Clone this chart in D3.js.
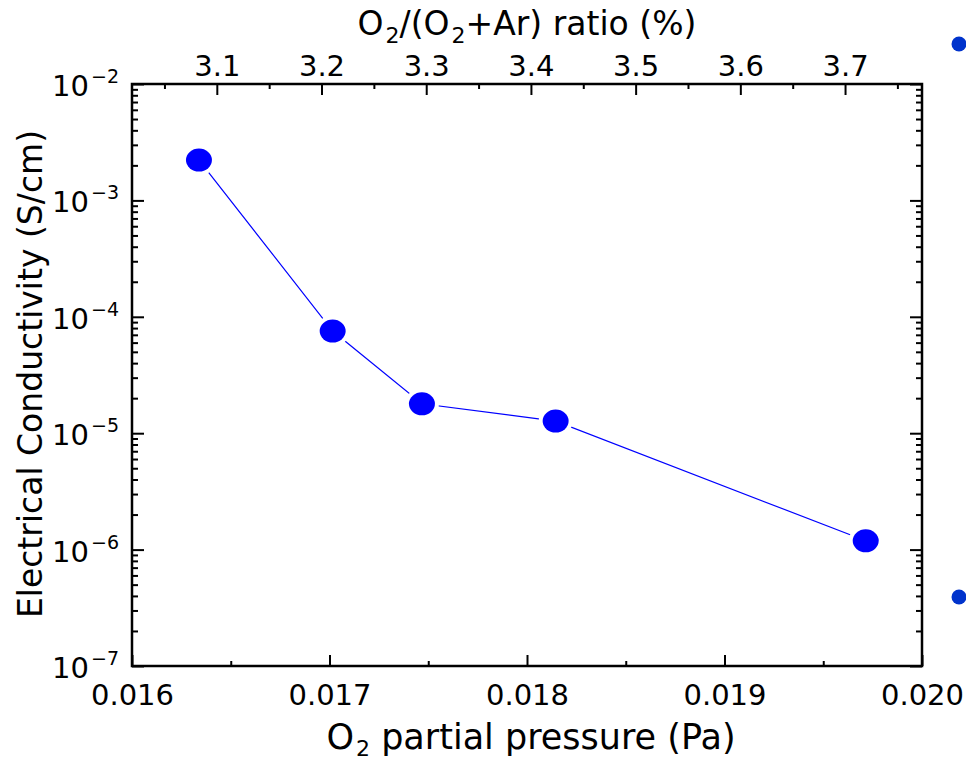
<!DOCTYPE html>
<html>
<head>
<meta charset="utf-8">
<script src="https://cdn.jsdelivr.net/npm/d3@7/dist/d3.min.js"></script>
<style>
  html, body { margin: 0; padding: 0; background: #fff; }
  svg { display: block; }
  text { font-family: "DejaVu Sans", sans-serif; fill: #000; }
</style>
</head>
<body>
<svg id="chart" width="966" height="762"></svg>
<script>
// ---- data ----
const pressure = [0.016339, 0.017016, 0.017468, 0.018145, 0.019715];      // O2 partial pressure (Pa)
const conductivity = [2.22e-3, 7.55e-5, 1.79e-5, 1.27e-5, 1.19e-6];        // S/cm
const xTicks = [0.016, 0.017, 0.018, 0.019, 0.020];
const xMinorTicks = [0.0165, 0.0175, 0.0185, 0.0195];
const topTicks = [3.1, 3.2, 3.3, 3.4, 3.5, 3.6, 3.7];
const topMinorTicks = [3.05, 3.15, 3.25, 3.35, 3.45, 3.55, 3.65, 3.75];
const yExponents = [-2, -3, -4, -5, -6, -7];

const W = 966, H = 762;
const margin = { left: 132, right: 44, top: 84, bottom: 96 };
const svg = d3.select("#chart");

const x = d3.scaleLinear().domain([0.016, 0.020]).range([margin.left, W - margin.right]);
const xTop = d3.scaleLinear().domain([3.019, 3.7735]).range([margin.left, W - margin.right]);
const y = d3.scaleLog().domain([1e-7, 1e-2]).range([H - margin.bottom, margin.top]);

const x0 = margin.left, x1 = W - margin.right, y0 = H - margin.bottom, y1 = margin.top;

function styleAxis(g) {
  g.select(".domain").remove();
  g.selectAll(".tick line").attr("stroke", "#000").attr("stroke-width", 2);
  g.selectAll(".tick text").style("font-size", "29px").attr("fill", "#000");
}

// bottom axis (ticks inward)
svg.append("g").attr("transform", `translate(0,${y0})`)
  .call(d3.axisBottom(x).tickValues(xTicks).tickSize(-11).tickPadding(18).tickFormat(d3.format(".3f")))
  .call(styleAxis);
svg.append("g").attr("transform", `translate(0,${y0})`)
  .call(d3.axisBottom(x).tickValues(xMinorTicks).tickSize(-5).tickFormat(""))
  .call(styleAxis);

// top axis
svg.append("g").attr("transform", `translate(0,${y1})`)
  .call(d3.axisTop(xTop).tickValues(topTicks).tickSize(-11).tickPadding(8).tickFormat(d3.format(".1f")))
  .call(styleAxis);
svg.append("g").attr("transform", `translate(0,${y1})`)
  .call(d3.axisTop(xTop).tickValues(topMinorTicks).tickSize(-5).tickFormat(""))
  .call(styleAxis);

// y axes (left and right), log ticks
const allY = y.ticks();
const majorY = allY.filter(d => Math.abs(Math.log10(d) - Math.round(Math.log10(d))) < 1e-9);
const minorY = allY.filter(d => !majorY.includes(d));
[["left", x0, d3.axisLeft], ["right", x1, d3.axisRight]].forEach(([side, px, ax]) => {
  svg.append("g").attr("transform", `translate(${px},0)`)
    .call(ax(y).tickValues(majorY).tickSize(-12).tickFormat(""))
    .call(styleAxis);
  svg.append("g").attr("transform", `translate(${px},0)`)
    .call(ax(y).tickValues(minorY).tickSize(-6).tickFormat(""))
    .call(styleAxis);
});

// y tick labels 10^n
const yl = svg.append("g").selectAll("text").data(yExponents).join("text")
  .attr("x", 119)
  .attr("y", d => y(Math.pow(10, d)) + 12)
  .attr("text-anchor", "end")
  .style("font-size", "29px");
yl.append("tspan").text("10");
yl.append("tspan").attr("dx", 2).attr("dy", -13).style("font-size", "19px").text(d => "\u2212" + Math.abs(d));

// frame
svg.append("rect").attr("x", x0).attr("y", y1).attr("width", x1 - x0).attr("height", y0 - y1)
  .attr("fill", "none").attr("stroke", "#000").attr("stroke-width", 2.5);

// data line and markers
const pts = pressure.map((p, i) => ({ p, c: conductivity[i] }));
svg.append("path").datum(pts)
  .attr("d", d3.line().x(d => x(d.p)).y(d => y(d.c)))
  .attr("fill", "none").attr("stroke", "#0000ff").attr("stroke-width", 1.2);
svg.append("g").selectAll("ellipse").data(pts).join("ellipse")
  .attr("cx", d => x(d.p)).attr("cy", d => y(d.c))
  .attr("rx", 17).attr("ry", 15.5).attr("fill", "#fff");
svg.append("g").selectAll("ellipse").data(pts).join("ellipse")
  .attr("cx", d => x(d.p)).attr("cy", d => y(d.c))
  .attr("rx", 13).attr("ry", 11.5).attr("fill", "#0000ff");

// axis titles
const tb = svg.append("text").attr("x", (x0 + x1) / 2 + 4).attr("y", 749)
  .attr("text-anchor", "middle").style("font-size", "35px");
tb.append("tspan").text("O");
tb.append("tspan").attr("dx", 2).attr("dy", 7).style("font-size", "22px").text("2");
tb.append("tspan").attr("dy", -7).text(" partial pressure (Pa)");

const tt = svg.append("text").attr("x", (x0 + x1) / 2).attr("y", 35)
  .attr("text-anchor", "middle").style("font-size", "33px");
tt.append("tspan").text("O");
tt.append("tspan").attr("dx", 2).attr("dy", 8).style("font-size", "22px").text("2");
tt.append("tspan").attr("dy", -8).text("/(O");
tt.append("tspan").attr("dx", 2).attr("dy", 8).style("font-size", "22px").text("2");
tt.append("tspan").attr("dy", -8).text("+Ar) ratio (%)");

svg.append("text")
  .attr("transform", `translate(42,${(y0 + y1) / 2 - 1}) rotate(-90)`)
  .attr("text-anchor", "middle").style("font-size", "33px")
  .text("Electrical Conductivity (S/cm)");

// stray markers at right edge of the image
const stray = [44, 597];
svg.append("g").selectAll("circle").data(stray).join("circle")
  .attr("cx", W - 7).attr("cy", d => d).attr("r", 7.5).attr("fill", "#0033cc");
</script>
</body>
</html>
